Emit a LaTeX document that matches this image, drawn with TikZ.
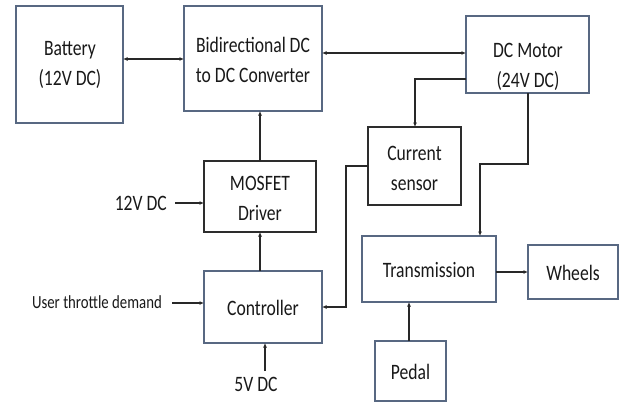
\documentclass[tikz,border=0pt]{standalone}
\usepackage{fontspec}
\setmainfont{Carlito}[FakeStretch=0.8]
\usetikzlibrary{arrows.meta}
\definecolor{boxblue}{RGB}{88,104,130}
\definecolor{boxdark}{RGB}{45,45,45}
\definecolor{linec}{RGB}{40,40,40}
\begin{document}
\begin{tikzpicture}[x=1pt,y=-1pt,
  blk/.style={draw=boxblue,line width=1.4pt},
  blkd/.style={draw=boxdark,line width=1.4pt},
  txt/.style={align=center,font=\fontsize{22}{30}\selectfont,text=black!90,inner sep=0pt},
  lab/.style={font=\fontsize{22}{30}\selectfont,text=black!90,inner sep=0pt},
  conn/.style={draw=linec,line width=1.3pt,-{Latex[length=4.5pt,width=4pt]}},
  bconn/.style={draw=linec,line width=1.3pt,{Latex[length=4.5pt,width=4pt]}-{Latex[length=4.5pt,width=4pt]}}]
\useasboundingbox (0,0) rectangle (621,402);
\fill[white] (0,0) rectangle (621,402);
% boxes
\draw[blk] (16,6) rectangle (123,123);
\node[txt] (battery) at (70,65) {Battery\\(12V DC)};
\draw[blk] (184,6) rectangle (322,111);
\node[txt] (bidir) at (253,60) {Bidirectional DC\\to DC Converter};
\draw[blk] (466,16) rectangle (589,93);
\node[txt] (motor) at (528,67) {DC Motor\\(24V DC)};
\draw[blkd] (368,127) rectangle (461,205);
\node[txt] (sensor) at (414.5,168) {Current\\sensor};
\draw[blkd] (204,161) rectangle (316,232);
\node[txt] (mosfet) at (260,198) {MOSFET\\Driver};
\draw[blk] (204,271) rectangle (322,343);
\node[txt] (ctrl) at (263,308) {Controller};
\draw[blk] (362,236) rectangle (496,302);
\node[txt] (trans) at (429,270) {Transmission};
\draw[blk] (528,245) rectangle (618,299);
\node[txt] (wheels) at (573,273) {Wheels};
\draw[blk] (375,341) rectangle (446,401);
\node[txt] (pedal) at (410.5,372) {Pedal};
% named anchors
\coordinate (batR) at (123,59);
\coordinate (bidL) at (184,59);
\coordinate (bidR) at (322,53);
\coordinate (motL) at (466,53);
\coordinate (motL2) at (466,79);
\coordinate (senT) at (415,127);
\coordinate (motB) at (528,93);
\coordinate (trT) at (480,236);
\coordinate (senL) at (368,166);
\coordinate (ctrR) at (322,307);
\coordinate (bidB) at (260,111);
\coordinate (mosT) at (260,161);
\coordinate (mosB) at (260,232);
\coordinate (ctrT) at (260,271);
\coordinate (mosL) at (204,203);
\coordinate (ctrL) at (204,303);
\coordinate (ctrB) at (265,343);
\coordinate (trR) at (496,272);
\coordinate (whL) at (528,272);
\coordinate (trB) at (409,302);
\coordinate (peT) at (409,341);
% labels
\node[lab,anchor=east] (v12) at (167,203) {12V DC};
\node[lab,anchor=east,font=\fontsize{18.5}{22}\selectfont] (thr) at (162,302) {User throttle demand};
\node[lab] (v5) at (256,384) {5V DC};
\coordinate (v12e) at (175,203);
\coordinate (thre) at (172,303);
\coordinate (v5e) at (265,371);
% connectors
\draw[bconn] (batR) -- (bidL);
\draw[bconn] (bidR) -- (motL);
\draw[conn] (motL2) -| (senT);
\draw[conn] (motB) |- (480,164) -- (trT);
\draw[conn] (senL) -| (346,307) -- (ctrR);
\draw[conn] (mosT) -- (bidB);
\draw[conn] (ctrT) -- (mosB);
\draw[conn] (v12e) -- (mosL);
\draw[conn] (thre) -- (ctrL);
\draw[conn] (v5e) -- (ctrB);
\draw[conn] (trR) -- (whL);
\draw[conn] (peT) -- (trB);
\end{tikzpicture}
\end{document}
